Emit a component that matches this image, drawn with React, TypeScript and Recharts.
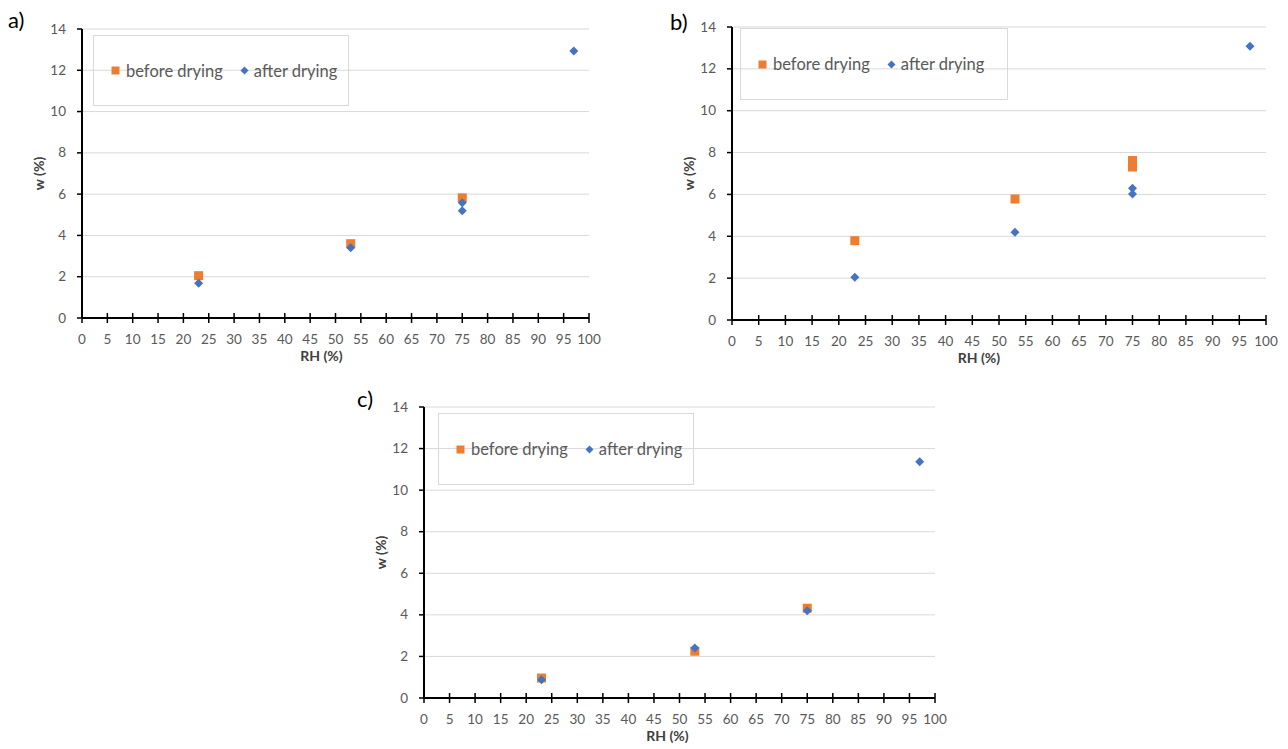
import { ScatterChart, Scatter, XAxis, YAxis, CartesianGrid, Legend } from 'recharts';

// moisture content w (%) against relative humidity RH (%)
const beforeA = [
  { rh: 23, w: 2.05 },
  { rh: 53, w: 3.6 },
  { rh: 75, w: 5.82 },
];
const afterA = [
  { rh: 23, w: 1.68 },
  { rh: 53, w: 3.4 },
  { rh: 75, w: 5.58 },
  { rh: 75, w: 5.2 },
  { rh: 97, w: 12.93 },
];

const beforeB = [
  { rh: 23, w: 3.79 },
  { rh: 53, w: 5.78 },
  { rh: 75, w: 7.62 },
  { rh: 75, w: 7.31 },
];
const afterB = [
  { rh: 23, w: 2.04 },
  { rh: 53, w: 4.19 },
  { rh: 75, w: 6.3 },
  { rh: 75, w: 6.02 },
  { rh: 97, w: 13.08 },
];

const beforeC = [
  { rh: 23, w: 0.96 },
  { rh: 53, w: 2.25 },
  { rh: 75, w: 4.32 },
];
const afterC = [
  { rh: 23, w: 0.88 },
  { rh: 53, w: 2.4 },
  { rh: 75, w: 4.2 },
  { rh: 97, w: 11.36 },
];

const rhTicks = [0, 5, 10, 15, 20, 25, 30, 35, 40, 45, 50, 55, 60, 65, 70, 75, 80, 85, 90, 95, 100];
const wTicks = [0, 2, 4, 6, 8, 10, 12, 14];

const ORANGE = '#ED7D31';
const BLUE = '#4472C4';
const FONT = 'Lato, "Open Sans", sans-serif';

const SquareDot = (p: any) => (
  <rect x={p.cx - 4.5} y={p.cy - 4.5} width={9} height={9} fill={ORANGE} />
);
const DiamondDot = (p: any) => (
  <polygon
    points={`${p.cx},${p.cy - 4.5} ${p.cx + 4.5},${p.cy} ${p.cx},${p.cy + 4.5} ${p.cx - 4.5},${p.cy}`}
    fill={BLUE}
  />
);

const XTick = ({ x, y, payload }: any) => (
  <g>
    <line x1={x} x2={x} y1={y - 5} y2={y + 5} stroke="#000" strokeWidth={1.5} />
    <text x={x} y={y + 26} textAnchor="middle" fill="#595959" fontSize={13.5} fontFamily={FONT}>
      {payload.value}
    </text>
  </g>
);

const YTick = ({ x, y, payload }: any) => (
  <g>
    <line x1={x - 5} x2={x} y1={y} y2={y} stroke="#000" strokeWidth={1.5} />
    <text x={x - 16} y={y + 4.5} textAnchor="end" fill="#595959" fontSize={13.5} fontFamily={FONT}>
      {payload.value}
    </text>
  </g>
);

// squares (before drying) first, as in the original legend
const LegendBox = ({ payload }: any) => {
  const items = [...(payload || [])].sort(
    (a: any, b: any) => (a.type === 'square' ? 0 : 1) - (b.type === 'square' ? 0 : 1)
  );
  return (
    <div
      style={{
        width: '100%',
        height: '100%',
        boxSizing: 'border-box',
        border: '1.5px solid #d9d9d9',
        display: 'flex',
        alignItems: 'center',
        paddingLeft: 17,
        fontFamily: FONT,
        fontSize: 16.5,
        color: '#595959',
      }}
    >
      {items.map((e: any, i: number) => (
        <div key={i} style={{ display: 'flex', alignItems: 'center', marginLeft: i ? 17 : 0 }}>
          <svg width={9} height={9} style={{ marginRight: e.type === 'square' ? 6 : 5 }}>
            {e.type === 'square' ? (
              <rect x={0.5} y={0.5} width={8} height={8} fill={ORANGE} />
            ) : (
              <polygon points="4.5,0.5 8.5,4.5 4.5,8.5 0.5,4.5" fill={BLUE} />
            )}
          </svg>
          <span>{e.value}</span>
        </div>
      ))}
    </div>
  );
};

interface PanelProps {
  letter: string;
  letterX: number;
  letterY: number;
  left: number;
  top: number;
  plotW: number;
  plotH: number;
  marginTop: number;
  titleShift: number;
  legend: { left: number; top: number; width: number; height: number };
  before: { rh: number; w: number }[];
  after: { rh: number; w: number }[];
}

function Panel(props: PanelProps) {
  const { left, top, plotW, plotH, marginTop, legend, titleShift } = props;
  const width = 82 + plotW + 20;
  const height = marginTop + plotH + 50;
  return (
    <>
      <div
        style={{
          position: 'absolute',
          left: props.letterX,
          top: props.letterY - 22,
          fontFamily: FONT,
          fontSize: 22,
          lineHeight: '26px',
          color: '#000',
        }}
      >
        {props.letter}
      </div>
      <div style={{ position: 'absolute', left, top }}>
        <ScatterChart
          width={width}
          height={height}
          margin={{ top: marginTop, right: 20, bottom: 4, left: 30 }}
        >
          <CartesianGrid vertical={false} stroke="#d9d9d9" strokeWidth={1} />
          <XAxis
            type="number"
            dataKey="rh"
            domain={[0, 100]}
            ticks={rhTicks}
            interval={0}
            height={46}
            tickSize={0}
            tickMargin={0}
            tickLine={false}
            tick={<XTick />}
            axisLine={{ stroke: '#000', strokeWidth: 2 }}
            label={{
              content: ({ viewBox }: any) => (
                <text
                  x={viewBox.x + viewBox.width / 2 + titleShift}
                  y={viewBox.y + 43}
                  textAnchor="middle"
                  fontFamily={FONT}
                  fontWeight="bold"
                  fontSize={14}
                  fill="#404040"
                >
                  RH (%)
                </text>
              ),
            }}
          />
          <YAxis
            type="number"
            dataKey="w"
            domain={[0, 14]}
            ticks={wTicks}
            interval={0}
            width={52}
            tickSize={0}
            tickMargin={0}
            tickLine={false}
            tick={<YTick />}
            axisLine={{ stroke: '#000', strokeWidth: 2 }}
            label={{
              content: ({ viewBox }: any) => {
                const cx = viewBox.x + viewBox.width - 44;
                const cy = viewBox.y + viewBox.height / 2;
                return (
                  <text
                    x={cx}
                    y={cy}
                    transform={`rotate(-90, ${cx}, ${cy})`}
                    textAnchor="middle"
                    dominantBaseline="central"
                    fontFamily={FONT}
                    fontWeight="bold"
                    fontSize={14}
                    fill="#404040"
                  >
                    w (%)
                  </text>
                );
              },
            }}
          />
          <Legend
            layout="horizontal"
            verticalAlign="middle"
            align="center"
            itemSorter={null}
            wrapperStyle={{ left: legend.left, top: legend.top, width: legend.width, height: legend.height }}
            content={<LegendBox />}
          />
          <Scatter
            name="before drying"
            data={props.before}
            fill={ORANGE}
            legendType="square"
            shape={SquareDot}
            isAnimationActive={false}
          />
          <Scatter
            name="after drying"
            data={props.after}
            fill={BLUE}
            legendType="diamond"
            shape={DiamondDot}
            isAnimationActive={false}
          />
        </ScatterChart>
      </div>
    </>
  );
}

export default function App() {
  return (
    <div style={{ position: 'absolute', left: 0, top: 0, width: 1288, height: 749, background: '#fff' }}>
      <Panel
        letter="a)"
        letterX={8}
        letterY={29}
        left={0}
        top={0}
        plotW={507}
        plotH={289}
        marginTop={29}
        titleShift={-14}
        legend={{ left: 93, top: 35, width: 256, height: 71 }}
        before={beforeA}
        after={afterA}
      />
      <Panel
        letter="b)"
        letterX={670}
        letterY={31}
        left={650}
        top={0}
        plotW={534}
        plotH={293}
        marginTop={27}
        titleShift={-20}
        legend={{ left: 90, top: 28, width: 268, height: 72 }}
        before={beforeB}
        after={afterB}
      />
      <Panel
        letter="c)"
        letterX={357}
        letterY={408}
        left={342}
        top={376}
        plotW={511}
        plotH={291}
        marginTop={31}
        titleShift={-12}
        legend={{ left: 96, top: 37, width: 256, height: 72 }}
        before={beforeC}
        after={afterC}
      />
    </div>
  );
}
